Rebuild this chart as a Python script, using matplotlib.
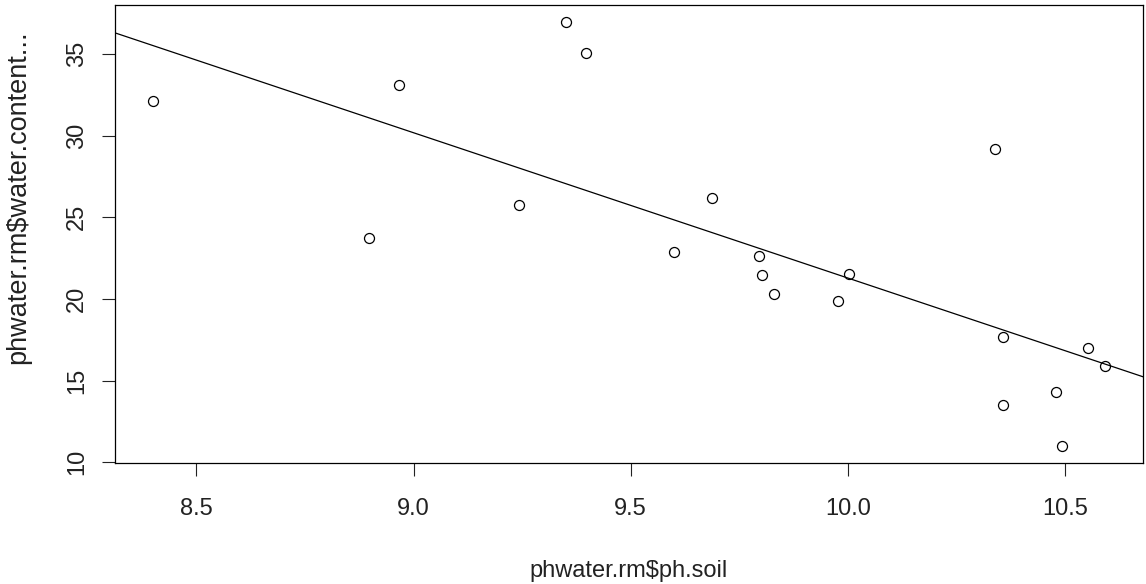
import numpy as np
from matplotlib import pyplot as plt

# valores
ph_soil = [8.40, 8.897, 8.967, 9.243, 9.352, 9.398, 9.600, 9.687, 9.796,
           9.802, 9.831, 9.978, 10.002, 10.338, 10.357, 10.357, 10.480,
           10.492, 10.554, 10.592]
water_content = [32.13, 23.74, 33.09, 25.75, 36.96, 35.06, 22.87, 26.2, 22.62,
                 21.5, 20.29, 19.85, 21.52, 29.16, 17.7, 13.49, 14.31,
                 11.0, 17.03, 15.9]

x_ticks = [8.5, 9.0, 9.5, 10.0, 10.5]
y_ticks = [10, 15, 20, 25, 30, 35]

plt.rcParams["font.family"] = ["Liberation Sans", "DejaVu Sans"]

W, H = 1146, 584
fig = plt.figure(figsize=(W / 100, H / 100), dpi=100)
ax = fig.add_axes([115 / W, 1 - 463 / H, (1143 - 115) / W, (463 - 5) / H])

ax.plot(ph_soil, water_content, linestyle="none", marker="o", markersize=7.2,
        markerfacecolor="none", markeredgecolor="black", markeredgewidth=0.9)

# reta de regressao (como abline(lm(...)) no R)
coef = np.polyfit(ph_soil, water_content, 1)
xr = (min(ph_soil), max(ph_soil))
pad_x = 0.04 * (xr[1] - xr[0])
xlim = (xr[0] - pad_x, xr[1] + pad_x)
yr = (min(water_content), max(water_content))
pad_y = 0.04 * (yr[1] - yr[0])
ylim = (yr[0] - pad_y, yr[1] + pad_y)
xs = np.array(xlim)
ax.plot(xs, np.polyval(coef, xs), color="black", linewidth=0.9)

ax.set_xlim(xlim)
ax.set_ylim(ylim)
ax.set_xticks(x_ticks)
ax.set_xticklabels([f"{v:.1f}" for v in x_ticks])
ax.set_yticks(y_ticks)
ax.set_yticklabels([str(v) for v in y_ticks], rotation=90, va="center")

ax.tick_params(direction="out", length=9.5, width=0.8, labelsize=17,
               colors="#222222")
ax.tick_params(axis="x", pad=16)
ax.tick_params(axis="y", pad=10)
for s in ax.spines.values():
    s.set_linewidth(0.9)

fig.text(629 / W, 1 - 571 / H, r"phwater.rm\$ph.soil", fontsize=17,
         ha="center", va="center", color="#222222")
fig.text(18 / W, 1 - 197 / H, r"phwater.rm\$water.content...", fontsize=19.5,
         ha="center", va="center", rotation=90, color="#222222")

fig.savefig("out.png", dpi=100)
